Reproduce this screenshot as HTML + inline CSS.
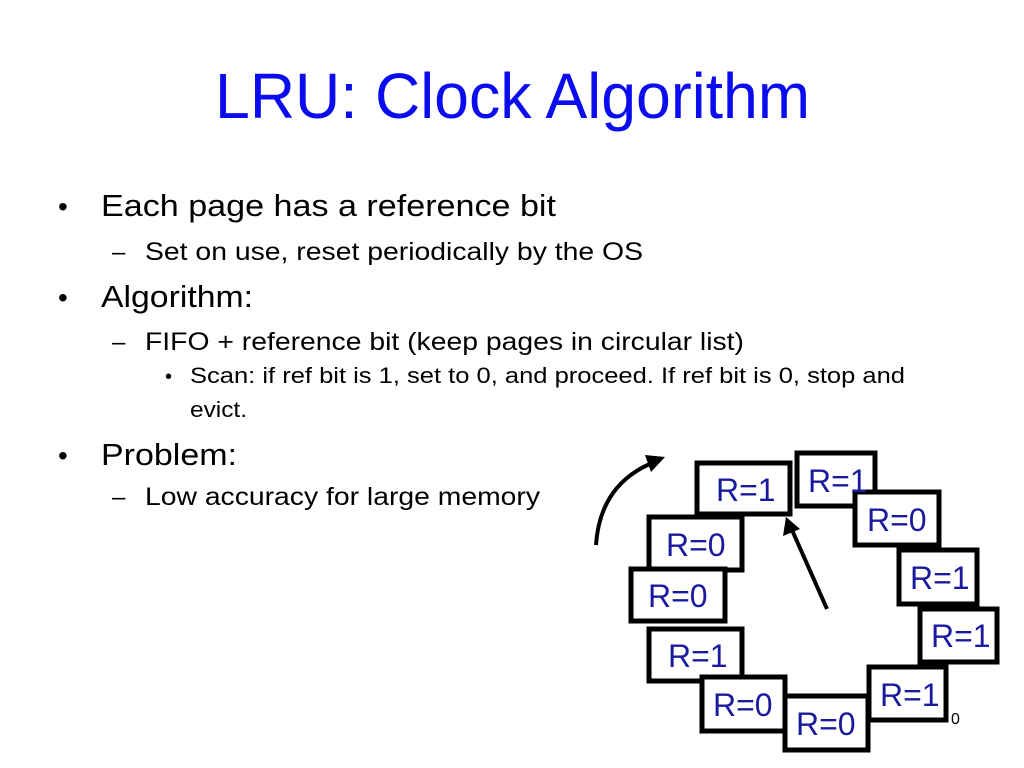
<!DOCTYPE html>
<html><head><meta charset="utf-8"><style>
html,body{margin:0;padding:0;background:#fff;}
svg{display:block;}
</style></head><body>
<svg width="1024" height="768" viewBox="0 0 1024 768" xmlns="http://www.w3.org/2000/svg" font-family="Liberation Sans, Arial, sans-serif">
<rect width="1024" height="768" fill="#fff"/>
<text x="215" y="118" font-size="64" fill="#0b0bf0" textLength="595" lengthAdjust="spacingAndGlyphs">LRU: Clock Algorithm</text>
<g fill="#000">
<text x="58" y="216" font-size="28">•</text>
<text x="101" y="216" font-size="31" textLength="455" lengthAdjust="spacingAndGlyphs">Each page has a reference bit</text>
<text x="112" y="260" font-size="24">–</text>
<text x="145" y="260" font-size="25" textLength="498" lengthAdjust="spacingAndGlyphs">Set on use, reset periodically by the OS</text>
<text x="58" y="307" font-size="28">•</text>
<text x="101" y="307" font-size="31" textLength="152" lengthAdjust="spacingAndGlyphs">Algorithm:</text>
<text x="112" y="350" font-size="24">–</text>
<text x="145" y="350" font-size="25" textLength="599" lengthAdjust="spacingAndGlyphs">FIFO + reference bit (keep pages in circular list)</text>
<text x="165" y="383" font-size="20">•</text>
<text x="190" y="383" font-size="22" textLength="715" lengthAdjust="spacingAndGlyphs">Scan: if ref bit is 1, set to 0, and proceed. If ref bit is 0, stop and</text>
<text x="190" y="417" font-size="22" textLength="57" lengthAdjust="spacingAndGlyphs">evict.</text>
<text x="58" y="465" font-size="28">•</text>
<text x="101" y="465" font-size="31" textLength="136" lengthAdjust="spacingAndGlyphs">Problem:</text>
<text x="112" y="505" font-size="24">–</text>
<text x="145" y="505" font-size="25" textLength="395" lengthAdjust="spacingAndGlyphs">Low accuracy for large memory</text>
</g>
<text x="951" y="724" font-size="16" fill="#000">0</text>
<g stroke="#000" stroke-width="5" fill="#fff">
<rect x="797" y="453" width="78" height="53"/>
<rect x="697" y="463" width="93" height="51"/>
<rect x="855" y="492" width="84" height="53"/>
<rect x="899" y="550" width="78" height="54"/>
<rect x="920" y="609" width="77" height="53"/>
<rect x="649" y="517" width="93" height="53"/>
<rect x="631" y="569" width="94" height="52"/>
<rect x="649" y="629" width="93" height="52"/>
<rect x="869" y="667" width="77" height="53"/>
<rect x="702" y="677" width="83" height="54"/>
<rect x="785" y="696" width="83" height="54"/>
</g>
<g fill="#1a1a9e" font-size="32" font-family="Liberation Sans, sans-serif">
<text x="716" y="501">R=1</text>
<text x="808" y="492">R=1</text>
<text x="867" y="531">R=0</text>
<text x="910" y="589">R=1</text>
<text x="931" y="647">R=1</text>
<text x="666" y="556">R=0</text>
<text x="648" y="607">R=0</text>
<text x="668" y="667">R=1</text>
<text x="880" y="706">R=1</text>
<text x="713" y="716">R=0</text>
<text x="796" y="735">R=0</text>
</g>
<line x1="827" y1="609" x2="792" y2="530" stroke="#000" stroke-width="4"/>
<polygon points="786,517 783,536 800,529" fill="#000"/>
<path d="M596,545 Q600,485 652,463" stroke="#000" stroke-width="4" fill="none"/>
<polygon points="665,457 645,455 651,472" fill="#000"/>
</svg>
</body></html>
